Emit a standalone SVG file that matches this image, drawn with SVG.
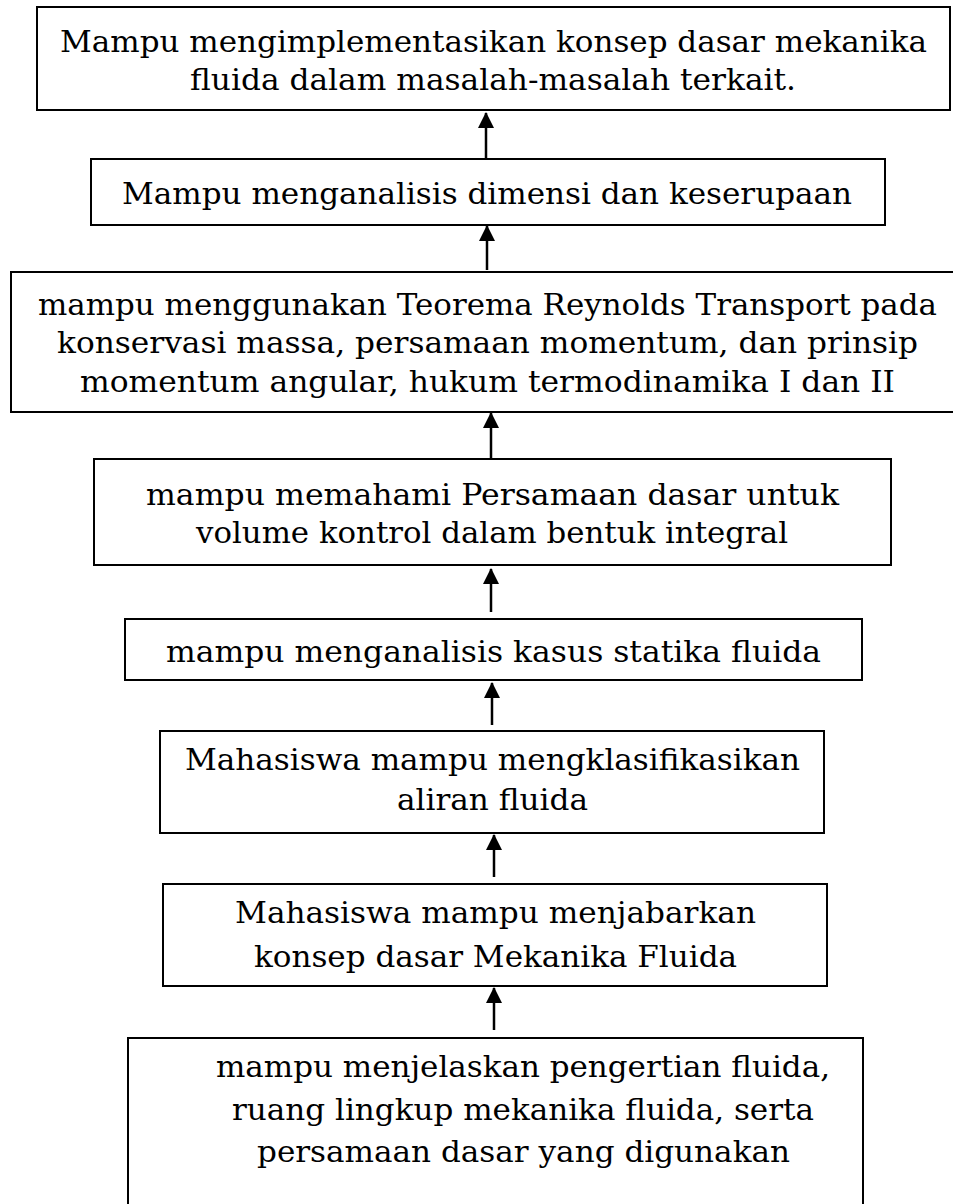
<svg xmlns="http://www.w3.org/2000/svg" width="953" height="1204" viewBox="0 0 953 1204">
<style>
.box{fill:#fff;stroke:#000;stroke-width:2}
.t{font-family:"DejaVu Serif","Liberation Serif",serif;font-size:30px;fill:#000}
.c{stroke:#000;stroke-width:2.5;fill:none}
</style>
<defs>
<marker id="ah" markerUnits="userSpaceOnUse" markerWidth="16" markerHeight="16" viewBox="0 0 16 16" refX="15" refY="8" orient="auto">
<path d="M0,0 L16,8 L0,16 Z" fill="#000"/>
</marker>
</defs>
<rect width="953" height="1204" fill="#fff"/>
<g id="n1">
<rect class="box" x="37" y="7" width="913" height="103"/>
<text class="t" x="60" y="52" textLength="867" lengthAdjust="spacingAndGlyphs">Mampu mengimplementasikan konsep dasar mekanika</text>
<text class="t" x="190" y="90" textLength="606" lengthAdjust="spacingAndGlyphs">fluida dalam masalah-masalah terkait.</text>
</g>
<g id="n2">
<rect class="box" x="91" y="159" width="794" height="66"/>
<text class="t" x="122" y="204" textLength="730" lengthAdjust="spacingAndGlyphs">Mampu menganalisis dimensi dan keserupaan</text>
</g>
<g id="n3">
<rect class="box" x="11" y="272" width="945" height="140"/>
<text class="t" x="38" y="315" textLength="899" lengthAdjust="spacingAndGlyphs">mampu menggunakan Teorema Reynolds Transport pada</text>
<text class="t" x="57" y="353" textLength="861" lengthAdjust="spacingAndGlyphs">konservasi massa, persamaan momentum, dan prinsip</text>
<text class="t" x="80" y="392" textLength="815" lengthAdjust="spacingAndGlyphs">momentum angular, hukum termodinamika I dan II</text>
</g>
<g id="n4">
<rect class="box" x="94" y="459" width="797" height="106"/>
<text class="t" x="146" y="505" textLength="693" lengthAdjust="spacingAndGlyphs">mampu memahami Persamaan dasar untuk</text>
<text class="t" x="196" y="543" textLength="592" lengthAdjust="spacingAndGlyphs">volume kontrol dalam bentuk integral</text>
</g>
<g id="n5">
<rect class="box" x="125" y="619" width="737" height="61"/>
<text class="t" x="166" y="662" textLength="655" lengthAdjust="spacingAndGlyphs">mampu menganalisis kasus statika fluida</text>
</g>
<g id="n6">
<rect class="box" x="160" y="731" width="664" height="102"/>
<text class="t" x="185" y="770" textLength="615" lengthAdjust="spacingAndGlyphs">Mahasiswa mampu mengklasifikasikan</text>
<text class="t" x="397" y="810" textLength="191" lengthAdjust="spacingAndGlyphs">aliran fluida</text>
</g>
<g id="n7">
<rect class="box" x="163" y="884" width="664" height="102"/>
<text class="t" x="235" y="923" textLength="521" lengthAdjust="spacingAndGlyphs">Mahasiswa mampu menjabarkan</text>
<text class="t" x="254" y="967" textLength="483" lengthAdjust="spacingAndGlyphs">konsep dasar Mekanika Fluida</text>
</g>
<g id="n8">
<rect class="box" x="128" y="1038" width="735" height="180"/>
<text class="t" x="216" y="1077" textLength="614" lengthAdjust="spacingAndGlyphs">mampu menjelaskan pengertian fluida,</text>
<text class="t" x="232" y="1120" textLength="582" lengthAdjust="spacingAndGlyphs">ruang lingkup mekanika fluida, serta</text>
<text class="t" x="257" y="1162" textLength="533" lengthAdjust="spacingAndGlyphs">persamaan dasar yang digunakan</text>
</g>
<g id="connectors">
<line class="c" x1="486" y1="158" x2="486" y2="113" marker-end="url(#ah)"/>
<line class="c" x1="487" y1="270" x2="487" y2="226" marker-end="url(#ah)"/>
<line class="c" x1="491" y1="458" x2="491" y2="413" marker-end="url(#ah)"/>
<line class="c" x1="491" y1="612" x2="491" y2="569" marker-end="url(#ah)"/>
<line class="c" x1="492" y1="725" x2="492" y2="683" marker-end="url(#ah)"/>
<line class="c" x1="494" y1="877" x2="494" y2="835" marker-end="url(#ah)"/>
<line class="c" x1="494" y1="1030" x2="494" y2="988" marker-end="url(#ah)"/>
</g>
</svg>
